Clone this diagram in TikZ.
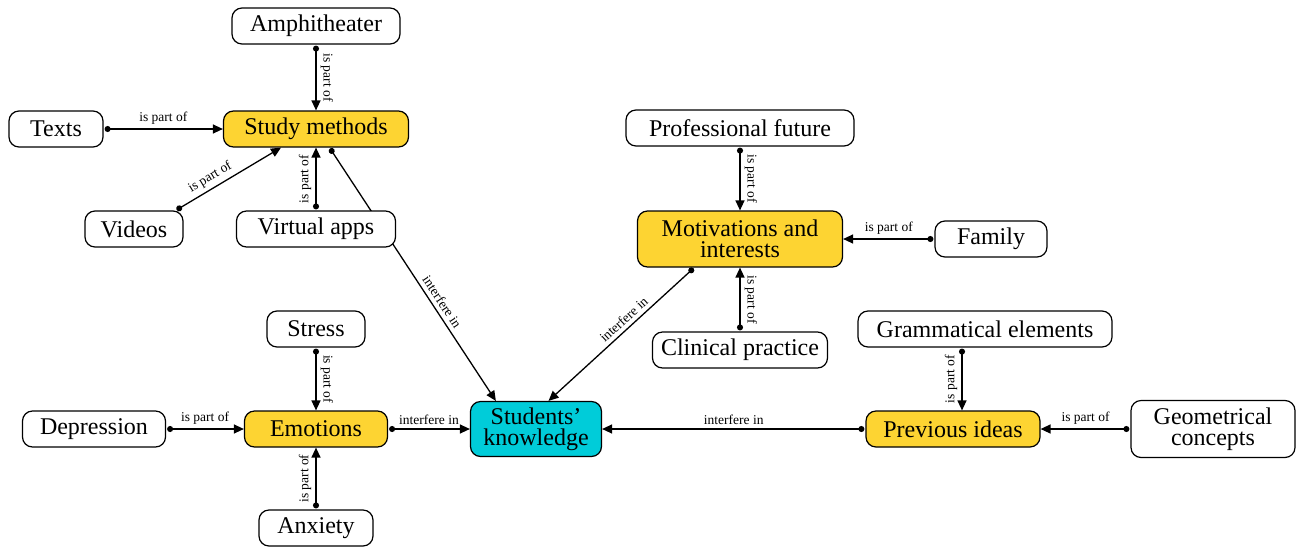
\documentclass[tikz,border=0pt]{standalone}
\usepackage{fontspec}
\setmainfont{Liberation Serif}
\usetikzlibrary{arrows.meta,backgrounds,positioning}
\definecolor{ideayellow}{RGB}{253,212,50}
\definecolor{ideacyan}{RGB}{0,204,217}
\tikzset{
  concept/.style={draw, line width=1.2pt, rounded corners=10pt, fill=white,
    minimum height=36pt, inner xsep=4pt, align=center,
    font=\fontsize{24}{21}\selectfont},
  key/.style={concept, fill=ideayellow},
  link/.style={line width=1.3pt, {Circle[length=6pt]}-{Triangle[length=10pt,width=9pt]},
    shorten <=1pt},
  rel/.style={font=\fontsize{13.5}{14}\selectfont, inner sep=4pt},
}
\begin{document}
\begin{tikzpicture}[x=1pt,y=-1pt]
  \useasboundingbox (0,0) rectangle (1296,547);
  % concepts
  \node[concept, minimum width=168pt] (amph) at (316,26) {Amphitheater};
  \node[concept, minimum width=94pt] (texts) at (56,129) {Texts};
  \node[key, minimum width=185pt] (sm) at (316,129) {Study methods};
  \node[concept, minimum width=98pt] (vid) at (134,229) {Videos};
  \node[concept, minimum width=159pt] (vapp) at (316,229) {Virtual apps};
  \node[concept, minimum width=228pt] (prof) at (740,128) {Professional future};
  \node[key, minimum width=205pt, minimum height=56pt] (mot) at (740,239) {Motivations and\\interests};
  \node[concept, minimum width=112pt] (fam) at (991,239) {Family};
  \node[concept, minimum width=175pt] (clin) at (740,350) {Clinical practice};
  \node[concept, minimum width=254pt] (gram) at (985,329) {Grammatical elements};
  \node[key, minimum width=174pt] (prev) at (953,429) {Previous ideas};
  \node[concept, minimum width=164pt, minimum height=57pt] (geo) at (1213,429) {Geometrical\\concepts};
  \node[concept, fill=ideacyan, minimum width=131pt, minimum height=55pt] (sk) at (536,429) {Students'\\knowledge};
  \node[concept, minimum width=98pt] (stress) at (316,329) {Stress};
  \node[key, minimum width=143pt] (emo) at (316,429) {Emotions};
  \node[concept, minimum width=143pt] (dep) at (94,429) {Depression};
  \node[concept, minimum width=114pt] (anx) at (316,528) {Anxiety};
  % links
  \begin{scope}[on background layer]
    \draw[link] (amph) -- (sm) node[rel, midway, rotate=-90, anchor=south] {is part of};
    \draw[link] (texts) -- (sm) node[rel, midway, above] {is part of};
    \draw[link] (vid.24) -- (sm.208) node[rel, pos=0.38, sloped, above] {is part of};
    \draw[link] (vapp) -- (sm) node[rel, midway, rotate=90, anchor=south] {is part of};
    \draw[link] (sm.-54) -- (sk.145) node[rel, pos=0.63, sloped, above] {interfere in};
    \draw[link] (prof) -- (mot) node[rel, midway, rotate=-90, anchor=south] {is part of};
    \draw[link] (fam) -- (mot) node[rel, midway, above] {is part of};
    \draw[link] (clin) -- (mot) node[rel, midway, rotate=-90, anchor=south] {is part of};
    \draw[link] (mot.212) -- (sk.66) node[rel, pos=0.44, sloped, above] {interfere in};
    \draw[link] ([xshift=-23pt]gram.south) -- ([xshift=9pt]prev.north)
      node[rel, midway, rotate=90, anchor=south] {is part of};
    \draw[link] (geo) -- (prev) node[rel, midway, above] {is part of};
    \draw[link] (prev) -- (sk) node[rel, midway, above] {interfere in};
    \draw[link] (stress) -- (emo) node[rel, midway, rotate=-90, anchor=south] {is part of};
    \draw[link] (dep) -- (emo) node[rel, midway, above] {is part of};
    \draw[link] (anx) -- (emo) node[rel, midway, rotate=90, anchor=south] {is part of};
    \draw[link] (emo) -- (sk) node[rel, midway, above] {interfere in};
  \end{scope}
\end{tikzpicture}
\end{document}
